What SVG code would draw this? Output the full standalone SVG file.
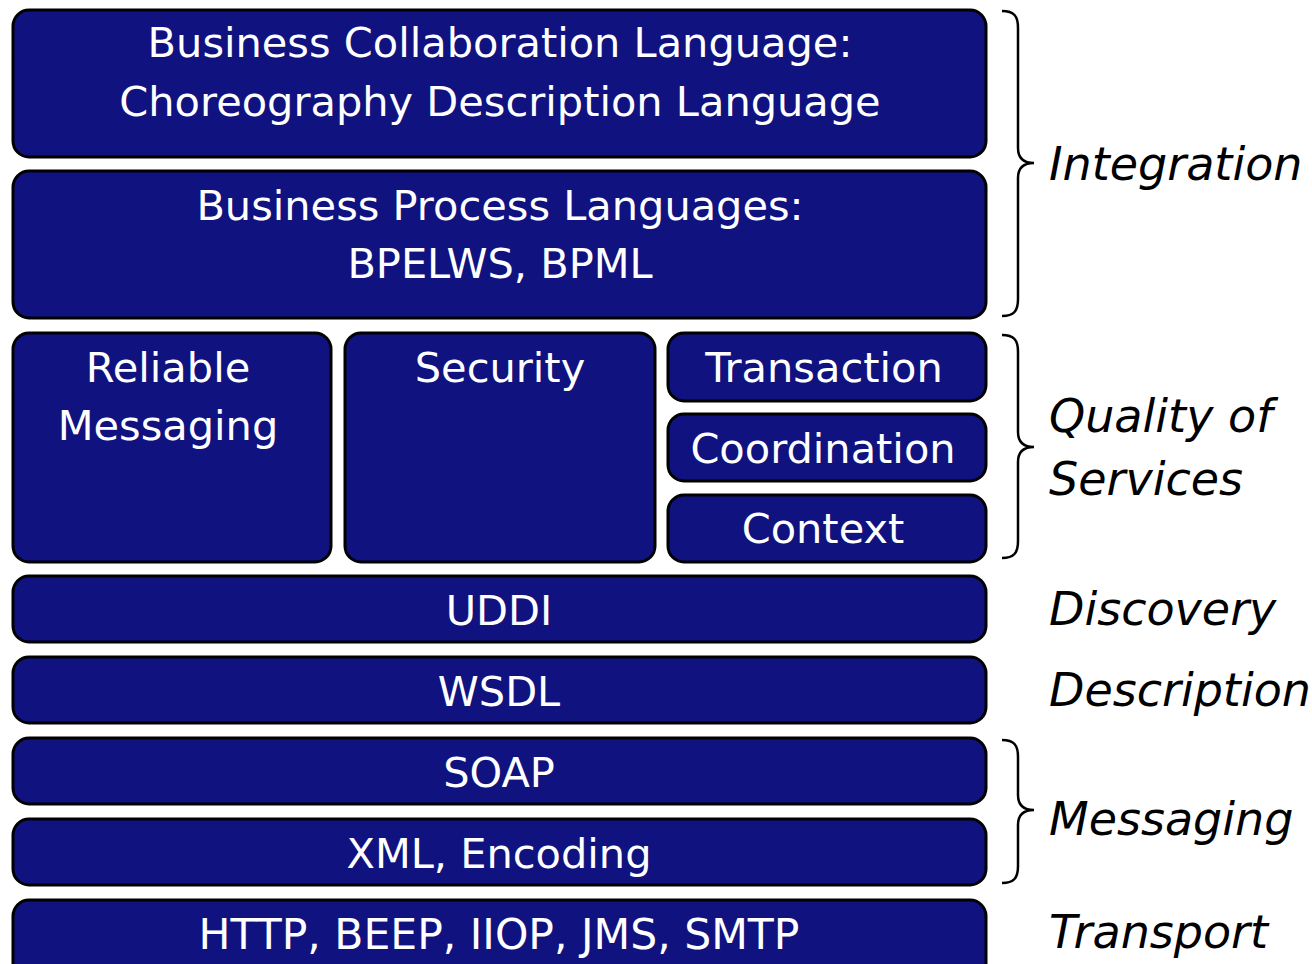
<svg xmlns="http://www.w3.org/2000/svg" width="1312" height="964" viewBox="0 0 1312 964">
  <style>
    .box { fill: #0f127f; stroke: #000; stroke-width: 3; }
    .t { font-family: "DejaVu Sans", "Liberation Sans", sans-serif; font-size: 41.5px; fill: #fff; text-anchor: middle; }
    .lbl { font-family: "DejaVu Sans", "Liberation Sans", sans-serif; font-size: 46px; font-style: italic; fill: #000; }
    .brace { fill: none; stroke: #000; stroke-width: 2.5; }
  </style>
  <rect width="1312" height="964" fill="#fff"/>

  <g id="bcl">
    <rect class="box" x="13" y="10" width="973" height="147" rx="16"/>
    <text class="t" x="500" y="57">Business Collaboration Language:</text>
    <text class="t" x="500" y="116">Choreography Description Language</text>
  </g>
  <g id="bpl">
    <rect class="box" x="13" y="171" width="973" height="147" rx="16"/>
    <text class="t" x="500" y="220">Business Process Languages:</text>
    <text class="t" x="500" y="278">BPELWS, BPML</text>
  </g>
  <g id="reliable">
    <rect class="box" x="13" y="333" width="318" height="229" rx="16"/>
    <text class="t" x="168" y="382">Reliable</text>
    <text class="t" x="168" y="440">Messaging</text>
  </g>
  <g id="security">
    <rect class="box" x="345" y="333" width="310" height="229" rx="16"/>
    <text class="t" x="500" y="382">Security</text>
  </g>
  <g id="transaction">
    <rect class="box" x="668" y="333" width="318" height="68" rx="16"/>
    <text class="t" x="824" y="382">Transaction</text>
  </g>
  <g id="coordination">
    <rect class="box" x="668" y="414" width="318" height="67" rx="16"/>
    <text class="t" x="823" y="463">Coordination</text>
  </g>
  <g id="context">
    <rect class="box" x="668" y="495" width="318" height="67" rx="16"/>
    <text class="t" x="823" y="543">Context</text>
  </g>
  <g id="uddi">
    <rect class="box" x="13" y="576" width="973" height="66" rx="16"/>
    <text class="t" x="499" y="625">UDDI</text>
  </g>
  <g id="wsdl">
    <rect class="box" x="13" y="657" width="973" height="66" rx="16"/>
    <text class="t" x="499" y="706">WSDL</text>
  </g>
  <g id="soap">
    <rect class="box" x="13" y="738" width="973" height="66" rx="16"/>
    <text class="t" x="499" y="787">SOAP</text>
  </g>
  <g id="xml">
    <rect class="box" x="13" y="819" width="973" height="66" rx="16"/>
    <text class="t" x="499" y="868">XML, Encoding</text>
  </g>
  <g id="transport">
    <rect class="box" x="13" y="900" width="973" height="80" rx="16"/>
    <text class="t" x="499" y="949" style="font-size:42.5px">HTTP, BEEP, IIOP, JMS, SMTP</text>
  </g>

  <g id="connectors">
    <path class="brace" d="M1002,11 C1014,11 1018,16 1018,28 L1018,148 C1018,157 1022,163 1034,163 C1022,163 1018,169 1018,178 L1018,299 C1018,311 1014,316 1002,316"/>
    <path class="brace" d="M1002,335 C1014,335 1018,340 1018,352 L1018,432 C1018,441 1022,447 1034,447 C1022,447 1018,453 1018,462 L1018,541 C1018,553 1014,558 1002,558"/>
    <path class="brace" d="M1002,740 C1014,740 1018,745 1018,757 L1018,795 C1018,804 1022,810 1034,810 C1022,810 1018,816 1018,825 L1018,866 C1018,878 1014,883 1002,883"/>
  </g>

  <g id="labels">
    <text class="lbl" x="1049" y="180">Integration</text>
    <text class="lbl" x="1049" y="432">Quality of</text>
    <text class="lbl" x="1049" y="495">Services</text>
    <text class="lbl" x="1049" y="625">Discovery</text>
    <text class="lbl" x="1049" y="706">Description</text>
    <text class="lbl" x="1049" y="835">Messaging</text>
    <text class="lbl" x="1049" y="948">Transport</text>
  </g>
</svg>
